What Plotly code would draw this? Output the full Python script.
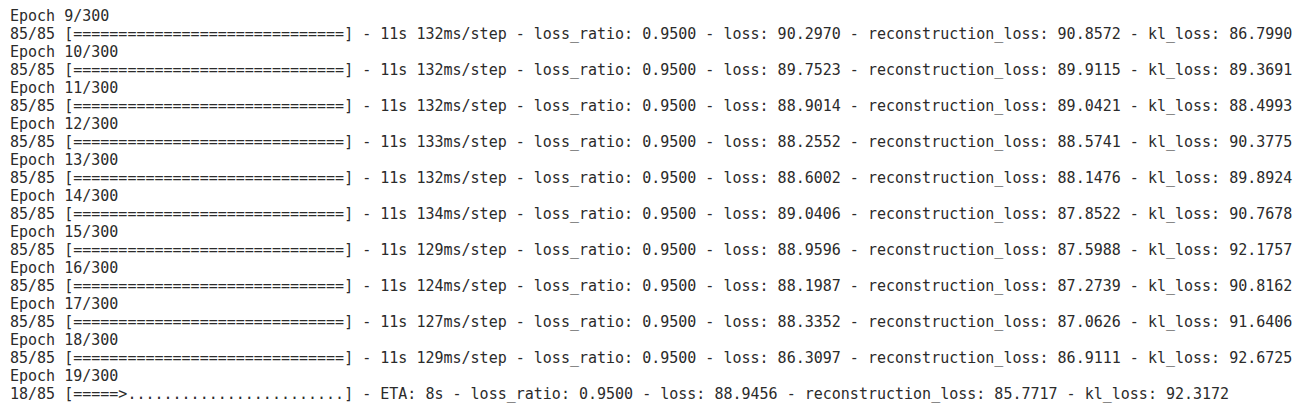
import plotly.graph_objects as go

epochs = [9, 10, 11, 12, 13, 14, 15, 16, 17, 18]
step_ms = [132, 132, 132, 133, 132, 134, 129, 124, 127, 129]
loss_ratio = [0.95] * 10
loss = [90.2970, 89.7523, 88.9014, 88.2552, 88.6002, 89.0406, 88.9596, 88.1987, 88.3352, 86.3097]
recon = [90.8572, 89.9115, 89.0421, 88.5741, 88.1476, 87.8522, 87.5988, 87.2739, 87.0626, 86.9111]
kl = [86.7990, 89.3691, 88.4993, 90.3775, 89.8924, 90.7678, 92.1757, 90.8162, 91.6406, 92.6725]
cur_epoch = 19
cur_step = 18
cur = dict(eta="8s", loss_ratio=0.95, loss=88.9456, recon=85.7717, kl=92.3172)

lines = []
for i, e in enumerate(epochs):
    lines.append(f"Epoch {e}/300")
    lines.append(f"85/85 [{'=' * 30}] - 11s {step_ms[i]}ms/step - loss_ratio: {loss_ratio[i]:.4f} - loss: {loss[i]:.4f} - reconstruction_loss: {recon[i]:.4f} - kl_loss: {kl[i]:.4f}")
lines.append(f"Epoch {cur_epoch}/300")
lines.append(f"{cur_step}/85 [{'=' * 5}>{'.' * 24}] - ETA: {cur['eta']} - loss_ratio: {cur['loss_ratio']:.4f} - loss: {cur['loss']:.4f} - reconstruction_loss: {cur['recon']:.4f} - kl_loss: {cur['kl']:.4f}")

ys = [9 + 18 * i for i in range(len(lines))]

fig = go.Figure(go.Scatter(
    x=[2] * len(lines), y=ys, text=[l.replace(" ", "\u00a0") for l in lines],
    mode="text", textposition="middle right",
    textfont=dict(family="DejaVu Sans Mono", size=15, color="#2b2b2b"),
    hoverinfo="skip"))
fig.add_shape(type="line", xref="x", yref="y", x0=0, x1=1301, y0=417, y1=417,
              line=dict(color="#3daee9", width=2))
fig.update_layout(width=1301, height=419, margin=dict(l=0, r=0, t=0, b=0),
                  paper_bgcolor="white", plot_bgcolor="white", showlegend=False,
                  xaxis=dict(range=[0, 1301], visible=False, fixedrange=True),
                  yaxis=dict(range=[419, 0], visible=False, fixedrange=True))
fig.write_html("out.html", config={"displayModeBar": False})
